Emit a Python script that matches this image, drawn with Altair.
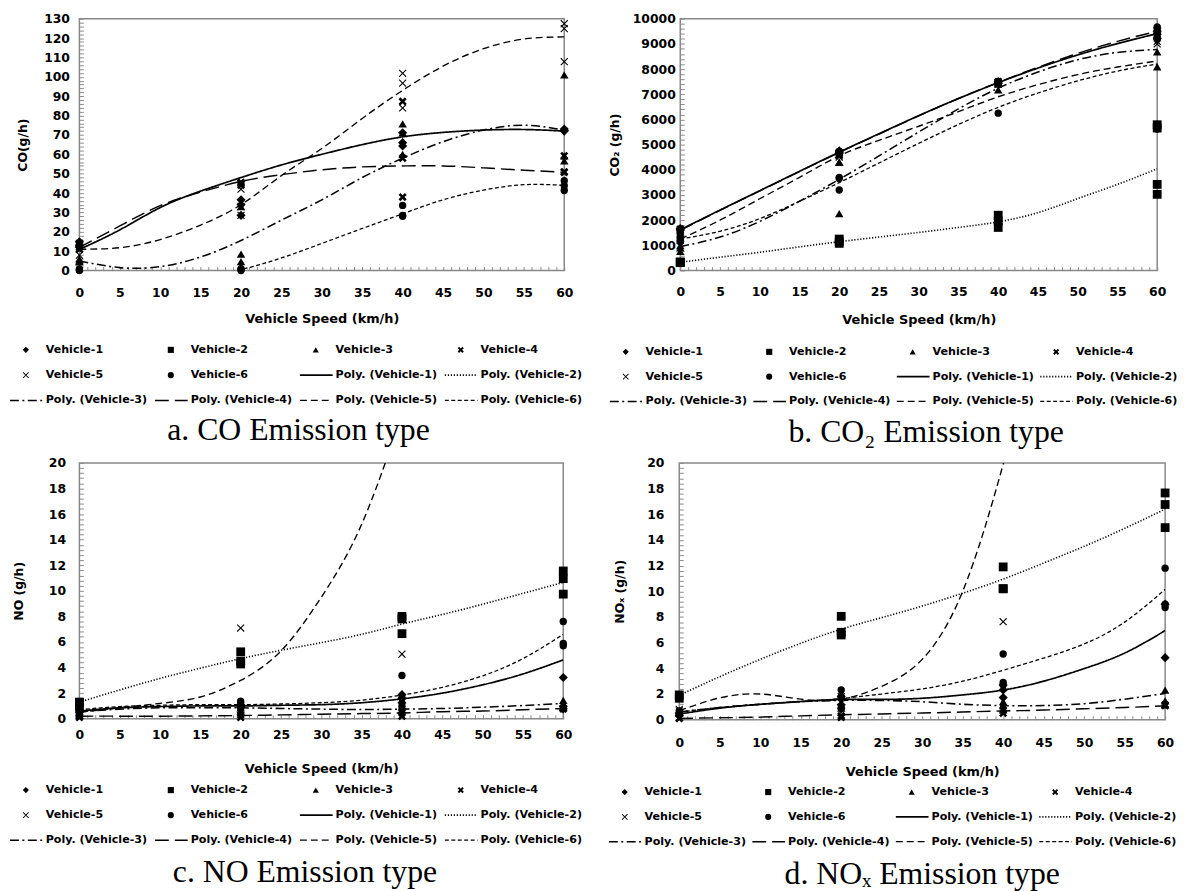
import altair as alt
import pandas as pd

# ---------------------------------------------------------------- data
SPEEDS = [0, 20, 40, 60]
CURVE_X = [0, 5, 10, 15, 20, 25, 30, 35, 40, 45, 50, 55, 60]
VEHICLES = ["Vehicle-1", "Vehicle-2", "Vehicle-3", "Vehicle-4", "Vehicle-5", "Vehicle-6"]
POLY_LABELS = ["Poly. (Vehicle-1)", "Poly. (Vehicle-2)", "Poly. (Vehicle-3)",
               "Poly. (Vehicle-4)", "Poly. (Vehicle-5)", "Poly. (Vehicle-6)"]

# measured points: readings at speeds 0, 20, 40, 60 km/h
CO_PTS = {
    "Vehicle-1": [[14.8, 13, 12], [28.5, 34, 36.5], [64.3, 66, 71.1], [72.3, 72, 73]],
    "Vehicle-2": [[], [], [], []],
    "Vehicle-3": [[6, 4.5, 5], [8.5, 4.6, 33], [75.7, 71.1, 60], [101, 56.6, 59.2]],
    "Vehicle-4": [[12, 13, 11], [45.5, 44, 45], [87.3, 58, 37.9], [59.2, 50.7, 51]],
    "Vehicle-5": [[8, 11, 14], [42, 33, 28.5], [101.8, 96.7, 83.9], [127.4, 124.9, 107.8]],
    "Vehicle-6": [[0, 0.3, 0.8], [0.5, 0, 1], [33.6, 28, 28.5], [46.4, 43.8, 41.3]],
}
CO2_PTS = {
    "Vehicle-1": [[1671, 1605, 1650], [4750, 4700, 4650], [7500, 7434, 7450], [9382, 9210, 9500]],
    "Vehicle-2": [[329, 340, 320], [1250, 1079, 1150], [2197, 1974, 1711], [5789, 5658, 3421, 3026]],
    "Vehicle-3": [[987, 763, 900], [4303, 2263, 4300], [7171, 7450, 7400], [8684, 8092, 9400]],
    "Vehicle-4": [[1600, 1550, 1650], [4650, 4600, 4700], [7450, 7480, 7500], [9500, 9450, 9550]],
    "Vehicle-5": [[1250, 1300, 1200], [4550, 4605, 4500], [7450, 7400, 7480], [9000, 9100, 9300]],
    "Vehicle-6": [[1316, 1224, 1145], [3650, 3197, 3700], [6250, 7434, 7500], [9671, 5618, 9210]],
}
NO_PTS = {
    "Vehicle-1": [[0.5, 0.6], [1.0, 1.1, 0.9], [1.88, 1.6, 1.24], [3.22, 0.98, 0.77]],
    "Vehicle-2": [[1.24, 0.98, 1.3], [5.23, 4.28, 4.5], [8.0, 7.8, 6.65], [11.55, 10.95, 9.74]],
    "Vehicle-3": [[0.4, 0.3], [0.85, 0.6], [0.98, 0.72], [1.44, 0.9]],
    "Vehicle-4": [[0.1, 0.2], [0.1, 0.3], [0.46, 0.2], [0.77, 0.8]],
    "Vehicle-5": [[0.5, 0.4], [7.09, 1.0], [5.05], []],
    "Vehicle-6": [[0.3, 0.7], [1.37, 1.1, 0.85], [3.38, 1.6, 0.98], [7.6, 5.88, 5.7]],
}
NOX_PTS = {
    "Vehicle-1": [[0.51, 0.33], [1.6, 1.16, 1.8], [2.31, 2.7, 1.72], [4.83, 9.0]],
    "Vehicle-2": [[1.93, 1.67], [8.05, 6.81, 6.6], [11.9, 10.2, 10.2], [17.66, 16.76, 14.96]],
    "Vehicle-3": [[0.69, 0.5], [1.16, 0.9], [1.41, 1.1, 0.77], [2.31, 1.47, 1.16]],
    "Vehicle-4": [[0.13, 0.1], [0.18, 0.3], [0.51, 0.77], [1.16, 1.1]],
    "Vehicle-5": [[0.69, 0.8], [0.59, 1.8], [7.63], []],
    "Vehicle-6": [[0.69, 0.51], [2.31, 1.8, 0.9], [5.12, 2.9, 2.7], [11.8, 8.74, 9.0]],
}

# polynomial trend curves at CURVE_X (None = not drawn)
CO_POLY = {
    "Vehicle-1": [10.9, 21, 32.5, 41, 48, 54.5, 60, 65, 69, 71.3, 72.5, 72.8, 72],
    "Vehicle-3": [5, 1.5, 2, 7, 15.5, 26, 36.5, 48, 58, 66.5, 72.5, 75, 72.5],
    "Vehicle-4": [12, 23, 33.5, 40.5, 46, 49.5, 52, 53.5, 54, 54, 53, 51.8, 50.7],
    "Vehicle-5": [11, 11.8, 16, 23.5, 34, 49, 63, 78.5, 93, 105.5, 114.5, 119.5, 120.6],
    "Vehicle-6": [0, -6, -7, -4, 0.5, 6.5, 14, 21.7, 29.3, 36.5, 41.5, 44.3, 44],
}
CO2_POLY = {
    "Vehicle-1": [1618, 2400, 3170, 3940, 4700, 5430, 6150, 6830, 7460, 8040, 8560, 9010, 9408],
    "Vehicle-2": [330, 530, 724, 940, 1145, 1330, 1513, 1710, 1934, 2300, 2855, 3420, 4040],
    "Vehicle-3": [950, 1330, 1950, 2750, 3620, 4550, 5500, 6420, 7240, 7880, 8370, 8660, 8780],
    "Vehicle-4": [1600, 2390, 3160, 3930, 4690, 5420, 6140, 6830, 7470, 8070, 8620, 9100, 9500],
    "Vehicle-5": [1250, 2000, 2850, 3700, 4550, 5170, 5730, 6310, 6900, 7380, 7780, 8080, 8320],
    "Vehicle-6": [1250, 1560, 2060, 2750, 3490, 4270, 5050, 5800, 6480, 7050, 7530, 7920, 8200],
}
NO_POLY = {
    "Vehicle-1": [0.6, 0.85, 0.95, 1.0, 1.0, 1.05, 1.1, 1.25, 1.55, 2.0, 2.65, 3.5, 4.6],
    "Vehicle-2": [1.3, 2.25, 3.15, 3.95, 4.7, 5.35, 5.95, 6.6, 7.4, 8.15, 8.95, 9.8, 10.65],
    "Vehicle-3": [0.55, 0.75, 0.85, 0.85, 0.85, 0.8, 0.75, 0.72, 0.75, 0.8, 0.9, 1.03, 1.2],
    "Vehicle-4": [0.2, 0.2, 0.2, 0.22, 0.25, 0.3, 0.35, 0.4, 0.45, 0.55, 0.6, 0.7, 0.8],
    "Vehicle-5": [0.5, 0.85, 1.2, 1.7, 3.0, 5.3, 9.5, 15.2, 23.8, None, None, None, None],
    "Vehicle-6": [0.7, 0.95, 1.05, 1.1, 1.1, 1.15, 1.25, 1.45, 1.85, 2.45, 3.35, 4.7, 6.6],
}
NOX_POLY = {
    "Vehicle-1": [0.44, 0.9, 1.2, 1.42, 1.58, 1.58, 1.67, 1.93, 2.31, 3.0, 3.98, 5.19, 6.94],
    "Vehicle-2": [1.9, 3.35, 4.7, 5.95, 7.05, 7.95, 8.85, 9.85, 10.95, 12.2, 13.5, 14.9, 16.4],
    "Vehicle-3": [0.6, 0.95, 1.2, 1.4, 1.5, 1.5, 1.4, 1.2, 1.1, 1.1, 1.25, 1.6, 2.05],
    "Vehicle-4": [0.1, 0.15, 0.2, 0.3, 0.38, 0.45, 0.52, 0.6, 0.68, 0.75, 0.85, 0.95, 1.08],
    "Vehicle-5": [0.7, 1.7, 2.0, 1.6, 1.6, 2.6, 4.7, 10.0, 19.9, 32, None, None, None],
    "Vehicle-6": [0.6, 0.95, 1.2, 1.4, 1.65, 2.0, 2.4, 3.0, 3.85, 4.8, 5.9, 7.6, 10.15],
}

# ---------------------------------------------------------------- styles
FONT = "DejaVu Sans"
X_BOLD = "M-1,-0.55L-0.55,-1L0,-0.45L0.55,-1L1,-0.55L0.45,0L1,0.55L0.55,1L0,0.45L-0.55,1L-1,0.55L-0.45,0Z"
X_THIN = "M-1,-0.8L-0.8,-1L0,-0.2L0.8,-1L1,-0.8L0.2,0L1,0.8L0.8,1L0,0.2L-0.8,1L-1,0.8L-0.2,0Z"
SHAPE_SCALE = alt.Scale(domain=VEHICLES,
                        range=["diamond", "square", "triangle-up", X_BOLD, X_THIN, "circle"])
SIZE_SCALE = alt.Scale(domain=VEHICLES, range=[85, 55, 70, 70, 45, 70])
DASH_SCALE = alt.Scale(domain=VEHICLES,
                       range=[[1, 0], [1.2, 1.8], [9, 3.5, 2, 3.5], [14, 6], [7, 4], [4, 2.5]])
WIDTH_SCALE = alt.Scale(domain=VEHICLES, range=[1.7, 1.3, 1.6, 1.6, 1.6, 1.6])
TICK_GREY = "#8a8a8a"


def points_frame(pts):
    rows = []
    for v, per_speed in pts.items():
        for s, vals in zip(SPEEDS, per_speed):
            for val in vals:
                rows.append({"speed": s, "value": val, "vehicle": v})
    return pd.DataFrame(rows)


def curve_frame(curves):
    rows = []
    for v, vals in curves.items():
        for s, val in zip(CURVE_X, vals):
            if val is not None:
                rows.append({"speed": s, "value": val, "vehicle": v})
    return pd.DataFrame(rows)


def legend_frame():
    labels = VEHICLES + POLY_LABELS
    kinds = ["point"] * 6 + ["line"] * 6
    keys = VEHICLES + VEHICLES
    return pd.DataFrame({
        "label": labels, "kind": kinds, "vehicle": keys,
        "col": [i % 4 for i in range(12)], "row": [i // 4 for i in range(12)],
    })


def panel(pts, curves, ymax, ystep, yminor, ytitle, caption, c):
    w, h = c["w"], c["h"]
    common = dict(labelFont=FONT, labelFontWeight="bold", labelFontSize=12.5, labelColor="black",
                  titleFont=FONT, titleFontWeight="bold", titleColor="black",
                  grid=False, domain=False, ticks=True, tickSize=0,
                  labelFlush=False, labelOverlap=False)
    xax = alt.Axis(values=list(range(0, 61, 5)), title="Vehicle Speed (km/h)", titleFontSize=13,
                   labelPadding=c["xlp"], titlePadding=c["xtp"], minExtent=30, maxExtent=30,
                   **common)
    yax = alt.Axis(values=list(range(0, ymax + 1, ystep)), title=ytitle, titleFontSize=12.5,
                   format="d", labelPadding=c["ylp"], titlePadding=c["ytp"],
                   minExtent=c["yext"], maxExtent=c["yext"], **common)
    # inside minor tick marks (Excel style)
    nminor_y = int(round(ymax / yminor))
    xminor = alt.Axis(values=list(range(0, 61)), orient="bottom", offset=-4, labels=False,
                      title=None, domain=False, grid=False, ticks=True, tickSize=4,
                      tickColor=TICK_GREY, tickWidth=1)
    yminor_ax = alt.Axis(values=[round(i * yminor, 4) for i in range(nminor_y + 1)],
                         orient="left", offset=-4, labels=False, title=None, domain=False,
                         grid=False, ticks=True, tickSize=4, tickColor=TICK_GREY, tickWidth=1)

    XS = alt.Scale(domain=[0, 60], nice=False, zero=False)
    YS = alt.Scale(domain=[0, ymax], nice=False)

    lines = alt.Chart(curve_frame(curves)).mark_line(
        interpolate="natural", clip=True, color="black"
    ).encode(
        x=alt.X("speed:Q", scale=XS, axis=xax),
        y=alt.Y("value:Q", scale=YS, axis=yax),
        strokeDash=alt.StrokeDash("vehicle:N", scale=DASH_SCALE, legend=None),
        strokeWidth=alt.StrokeWidth("vehicle:O", scale=WIDTH_SCALE, legend=None),
    )
    dots = alt.Chart(points_frame(pts)).mark_point(
        filled=True, color="black", opacity=1
    ).encode(
        x=alt.X("speed:Q", scale=XS, axis=xminor),
        y=alt.Y("value:Q", scale=YS, axis=yminor_ax),
        shape=alt.Shape("vehicle:N", scale=SHAPE_SCALE, legend=None),
        size=alt.Size("vehicle:O", scale=SIZE_SCALE, legend=None),
    )
    main = alt.layer(lines, dots).resolve_axis(x="independent", y="independent")

    LX = alt.X("col:Q", scale=alt.Scale(domain=[0, 4], range=[c["lx0"], c["lx0"] + 4 * c["pitch"]]),
               axis=None)
    LY = alt.Y("row:Q", scale=alt.Scale(domain=[0, 2], range=[h + c["r0"], h + c["r2"]]), axis=None)
    base = alt.Chart(legend_frame())
    leg_rules = base.transform_filter("datum.kind == 'line'").mark_rule(
        color="black", xOffset=-36, x2Offset=-3
    ).encode(
        x=LX, x2="col:Q", y=LY,
        strokeDash=alt.StrokeDash("vehicle:N", scale=DASH_SCALE, legend=None),
        strokeWidth=alt.StrokeWidth("vehicle:O", scale=WIDTH_SCALE, legend=None),
    )
    leg_pts = base.transform_filter("datum.kind == 'point'").mark_point(
        filled=True, color="black", opacity=1, xOffset=-20, size=38
    ).encode(
        x=LX, y=LY,
        shape=alt.Shape("vehicle:N", scale=SHAPE_SCALE, legend=None),
    )
    leg_text = base.mark_text(
        align="left", baseline="middle", font=FONT, fontWeight="bold", fontSize=11.2, color="black"
    ).encode(x=LX, y=LY, text="label:N")
    legend = alt.layer(leg_rules, leg_pts, leg_text)

    return alt.layer(main, legend).resolve_scale(x="independent", y="independent").properties(
        width=w, height=h,
        title=alt.TitleParams(caption, orient="bottom", anchor="middle", frame="group",
                              dx=c["cdx"], offset=c["coff"], baseline="top",
                              font="Liberation Serif", fontSize=32, fontWeight="normal",
                              color="black"),
    )


cfg_a = dict(w=489, h=254, xlp=16, xtp=12.5, ylp=10, yext=37, ytp=13,
             lx0=-34, pitch=146.2, r0=80, r2=131, cdx=-23.5, coff=10)
cfg_b = dict(w=481, h=254, xlp=15, xtp=13.5, ylp=5, yext=49, ytp=10.5,
             lx0=-35, pitch=144.7, r0=82, r2=132, cdx=7.5, coff=11)
cfg_c = dict(w=488, h=258, xlp=9.7, xtp=14, ylp=14, yext=32, ytp=22.5,
             lx0=-34, pitch=146.2, r0=72, r2=122.5, cdx=-16.5, coff=12)
cfg_d = dict(w=490, h=259, xlp=17, xtp=16.5, ylp=15.5, yext=33, ytp=20,
             lx0=-35, pitch=144.7, r0=73, r2=123, cdx=0, coff=12)

pa = panel(CO_PTS, CO_POLY, 130, 10, 2, "CO(g/h)", "a. CO Emission type", cfg_a)
pb = panel(CO2_PTS, CO2_POLY, 10000, 1000, 200, "CO\u2082 (g/h)", "b. CO\u2082 Emission type", cfg_b)
pc = panel(NO_PTS, NO_POLY, 20, 2, 0.4, "NO (g/h)", "c. NO Emission type", cfg_c)
pd_ = panel(NOX_PTS, NOX_POLY, 20, 2, 0.4, "NO\u2093 (g/h)", "d. NO\u2093 Emission type", cfg_d)

chart = alt.vconcat(
    alt.hconcat(pa, pb, spacing=24),
    alt.hconcat(pc, pd_, spacing=24),
    spacing=7,
).properties(padding=0, background="white").configure_view(
    stroke="#888888", strokeWidth=1.5
)

chart.save("out.html", embed_options={"renderer": "svg", "actions": False})
